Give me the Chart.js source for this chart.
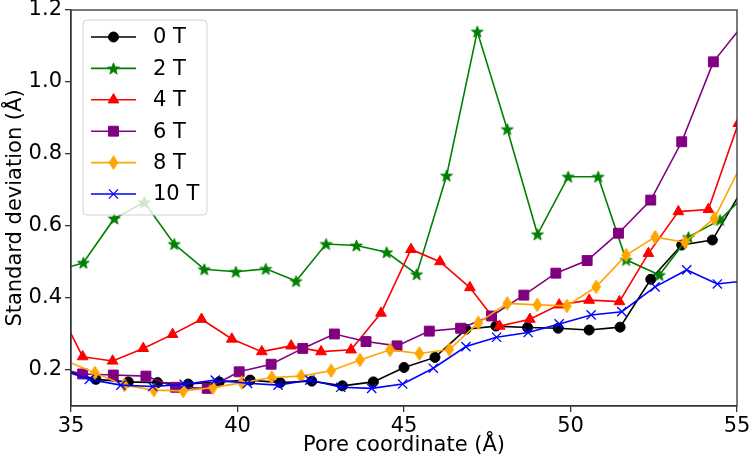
<!DOCTYPE html>
<html><head><meta charset="utf-8">
<script src="https://cdn.jsdelivr.net/npm/chart.js@4.4.0/dist/chart.umd.min.js"></script>
<style>html,body{margin:0;padding:0;background:#fff}</style>
</head><body>
<canvas id="c" width="750" height="462"></canvas>
<script>
// ---- data ----
const seriesNames = ['0 T', '2 T', '4 T', '6 T', '8 T', '10 T'];
const seriesColors = ['#000000', '#008000', '#ff0000', '#800080', '#ffa500', '#0000ff'];
const xTicks = [35, 40, 45, 50, 55];
const yTicks = [0.2, 0.4, 0.6, 0.8, 1.0, 1.2];

const x0T = [34.83, 35.75, 36.72, 37.60, 38.52, 39.45, 40.38, 41.28, 42.23, 43.15, 44.08, 45.00, 45.93, 46.86, 47.76, 48.71, 49.63, 50.56, 51.49, 52.41, 53.34, 54.26, 55.19];
const y0T = [0.198, 0.174, 0.167, 0.165, 0.161, 0.167, 0.172, 0.165, 0.169, 0.156, 0.167, 0.207, 0.235, 0.313, 0.322, 0.318, 0.316, 0.311, 0.319, 0.452, 0.547, 0.561, 0.706];

const x2T = [34.46, 35.37, 36.30, 37.20, 38.10, 39.00, 39.95, 40.85, 41.76, 42.66, 43.57, 44.48, 45.38, 46.28, 47.20, 48.10, 49.01, 49.93, 50.83, 51.67, 52.67, 53.54, 54.49, 55.40];
const y2T = [0.472, 0.498, 0.621, 0.666, 0.550, 0.480, 0.473, 0.481, 0.447, 0.550, 0.546, 0.527, 0.466, 0.740, 1.140, 0.869, 0.577, 0.737, 0.737, 0.506, 0.464, 0.569, 0.617, 0.700];

const x4T = [34.45, 35.35, 36.25, 37.17, 38.05, 38.92, 39.83, 40.73, 41.61, 42.51, 43.41, 44.31, 45.21, 46.08, 46.98, 47.87, 48.78, 49.66, 50.56, 51.47, 52.34, 53.24, 54.14, 55.04];
const y4T = [0.400, 0.237, 0.225, 0.260, 0.299, 0.341, 0.286, 0.251, 0.267, 0.251, 0.256, 0.358, 0.535, 0.501, 0.429, 0.322, 0.341, 0.381, 0.394, 0.390, 0.524, 0.640, 0.646, 0.885];

const x6T = [34.40, 35.35, 36.27, 37.25, 38.14, 39.09, 40.05, 41.01, 41.96, 42.91, 43.86, 44.79, 45.76, 46.70, 47.63, 48.60, 49.56, 50.50, 51.44, 52.41, 53.34, 54.29, 55.24];
const y6T = [0.209, 0.189, 0.186, 0.183, 0.152, 0.149, 0.195, 0.216, 0.260, 0.300, 0.279, 0.267, 0.308, 0.316, 0.350, 0.408, 0.469, 0.504, 0.580, 0.672, 0.834, 1.056, 1.166];

const x8T = [34.83, 35.72, 36.60, 37.49, 38.37, 39.26, 40.13, 41.03, 41.91, 42.81, 43.68, 44.58, 45.46, 46.36, 47.23, 48.10, 49.00, 49.89, 50.77, 51.67, 52.54, 53.44, 54.32, 55.21];
const y8T = [0.226, 0.192, 0.158, 0.144, 0.142, 0.151, 0.165, 0.179, 0.183, 0.198, 0.228, 0.256, 0.246, 0.257, 0.331, 0.385, 0.381, 0.378, 0.431, 0.519, 0.569, 0.555, 0.621, 0.785];

const x10T = [34.62, 35.55, 36.50, 37.45, 38.40, 39.33, 40.30, 41.22, 42.17, 43.10, 44.03, 44.96, 45.88, 46.86, 47.78, 48.73, 49.66, 50.62, 51.54, 52.54, 53.49, 54.41, 55.36];
const y10T = [0.203, 0.174, 0.158, 0.154, 0.160, 0.172, 0.163, 0.158, 0.172, 0.152, 0.149, 0.161, 0.205, 0.265, 0.291, 0.304, 0.328, 0.353, 0.362, 0.431, 0.478, 0.439, 0.449];

const seriesX = [x0T, x2T, x4T, x6T, x8T, x10T];
const seriesY = [y0T, y2T, y4T, y6T, y8T, y10T];

// ---- marker images (matplotlib-like filled star and thin diamond) ----
function makeStar(color, R) {
  const s = Math.ceil(2 * R + 4);
  const c = document.createElement('canvas');
  c.width = s; c.height = s;
  const g = c.getContext('2d');
  g.beginPath();
  for (let i = 0; i < 10; i++) {
    const a = -Math.PI / 2 + i * Math.PI / 5;
    const r = (i % 2) ? R * 0.40 : R;
    const px = s / 2 + r * Math.cos(a), py = s / 2 + 0.6 + r * Math.sin(a);
    if (i === 0) g.moveTo(px, py); else g.lineTo(px, py);
  }
  g.closePath();
  g.fillStyle = color; g.fill();
  g.strokeStyle = color; g.lineWidth = 1; g.stroke();
  return c;
}
function makeThinDiamond(color, hw, hh) {
  const w = Math.ceil(2 * hw + 4), h = Math.ceil(2 * hh + 4);
  const c = document.createElement('canvas');
  c.width = w; c.height = h;
  const g = c.getContext('2d');
  g.beginPath();
  g.moveTo(w / 2, h / 2 - hh);
  g.lineTo(w / 2 + hw, h / 2);
  g.lineTo(w / 2, h / 2 + hh);
  g.lineTo(w / 2 - hw, h / 2);
  g.closePath();
  g.fillStyle = color; g.fill();
  g.strokeStyle = color; g.lineWidth = 1; g.stroke();
  return c;
}

const markerStyles = ['circle', makeStar('#008000', 6.2), 'triangle', 'rect', makeThinDiamond('#ffa500', 4.3, 6.8), 'crossRot'];
const markerRadius = [5, 6, 6.2, 7, 6, 6.5];

const datasets = seriesNames.map((name, i) => ({
  label: name,
  data: seriesX[i].map((x, k) => ({ x: x, y: seriesY[i][k] })),
  borderColor: seriesColors[i],
  backgroundColor: seriesColors[i],
  pointBackgroundColor: seriesColors[i],
  pointBorderColor: seriesColors[i],
  pointBorderWidth: i === 5 ? 1.3 : 1,
  borderWidth: 1.6,
  pointStyle: markerStyles[i],
  pointRadius: markerRadius[i],
  pointHoverRadius: markerRadius[i],
  tension: 0,
  order: seriesNames.length - i
}));

const FONT = 'DejaVu Sans';
const FS = 21;
const TXT = '#000000';
const AX = '#333333';

const framePlugin = {
  id: 'frame',
  afterDatasetsDraw(chart) {
    const { ctx, chartArea: a } = chart;
    ctx.save();
    ctx.strokeStyle = AX;
    ctx.lineWidth = 1.3;
    ctx.strokeRect(a.left, a.top, a.right - a.left, a.bottom - a.top);
    ctx.restore();
  }
};

const legendPlugin = {
  id: 'boxLegend',
  afterDraw(chart) {
    const { ctx, chartArea: a } = chart;
    const bx = a.left + 12, by = a.top + 10, bw = 124, bh = 195;
    ctx.save();
    ctx.beginPath();
    if (ctx.roundRect) ctx.roundRect(bx, by, bw, bh, 4); else ctx.rect(bx, by, bw, bh);
    ctx.fillStyle = 'rgba(255,255,255,0.8)';
    ctx.fill();
    ctx.strokeStyle = '#d0d0d0';
    ctx.lineWidth = 1;
    ctx.stroke();
    chart.data.datasets.forEach((ds, i) => {
      const y = by + 17 + i * 31.4;
      const x1 = bx + 8, x2 = bx + 53;
      ctx.beginPath();
      ctx.moveTo(x1, y); ctx.lineTo(x2, y);
      ctx.strokeStyle = ds.borderColor; ctx.lineWidth = ds.borderWidth;
      ctx.stroke();
      ctx.fillStyle = ds.pointBackgroundColor;
      ctx.strokeStyle = ds.pointBorderColor;
      ctx.lineWidth = ds.pointBorderWidth;
      Chart.helpers.drawPoint(ctx, { pointStyle: ds.pointStyle, radius: ds.pointRadius, rotation: 0, borderWidth: ds.pointBorderWidth }, (x1 + x2) / 2, y);
      ctx.fillStyle = TXT;
      ctx.font = FS + 'px "' + FONT + '"';
      ctx.textBaseline = 'middle';
      ctx.textAlign = 'left';
      ctx.fillText(ds.label, bx + 70, y + 1);
    });
    ctx.restore();
  }
};

new Chart(document.getElementById('c'), {
  type: 'line',
  data: { datasets: datasets },
  plugins: [framePlugin, legendPlugin],
  options: {
    responsive: false,
    animation: false,
    events: [],
    layout: { padding: { top: 10, right: 13, left: 0, bottom: 0 } },
    plugins: { legend: { display: false }, tooltip: { enabled: false } },
    scales: {
      x: {
        type: 'linear',
        min: 35, max: 55,
        afterBuildTicks: s => { s.ticks = xTicks.map(v => ({ value: v })); },
        afterFit: s => { s.height = 56; s.paddingLeft = 0; s.paddingRight = 0; },
        grid: { display: true, drawOnChartArea: false, drawTicks: true, tickLength: 6, color: AX, lineWidth: 1.3 },
        border: { display: true, color: AX, width: 1.3 },
        ticks: { color: TXT, font: { family: FONT, size: FS }, padding: 2, maxRotation: 0, callback: v => String(v) },
        title: { display: true, text: 'Pore coordinate (Å)', color: TXT, font: { family: FONT, size: FS }, padding: { top: 0, bottom: 4 } }
      },
      y: {
        type: 'linear',
        min: 0.1, max: 1.2,
        afterBuildTicks: s => { s.ticks = yTicks.map(v => ({ value: v })); },
        afterFit: s => { s.width = 71; s.paddingTop = 0; s.paddingBottom = 0; },
        grid: { display: true, drawOnChartArea: false, drawTicks: true, tickLength: 6, color: AX, lineWidth: 1.3 },
        border: { display: true, color: AX, width: 1.3 },
        ticks: { color: TXT, font: { family: FONT, size: FS }, padding: 3, callback: v => v.toFixed(1) },
        title: { display: true, text: 'Standard deviation (Å)', color: TXT, font: { family: FONT, size: FS }, padding: { top: 3, bottom: 0 } }
      }
    }
  }
});
</script>
</body></html>
